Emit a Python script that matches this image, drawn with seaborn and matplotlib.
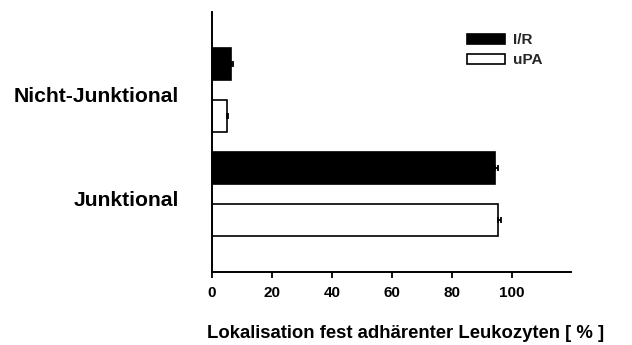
import matplotlib
matplotlib.use("Agg")
import matplotlib.pyplot as plt
import seaborn as sns
import pandas as pd
import numpy as np

categories = ["Nicht-Junktional", "Junktional"]
groups = ["I/R", "uPA"]
ir_values = [6.3, 94.3]
upa_values = [4.9, 95.2]
ir_err = [0.8, 0.9]
upa_err = [0.6, 1.3]
x_ticks = [0, 20, 40, 60, 80, 100]
x_label = "Lokalisation fest adhärenter Leukozyten [ % ]"

sns.set_theme(style="white")
plt.rcParams['font.family'] = ['Liberation Sans', 'DejaVu Sans']
plt.rcParams['font.weight'] = 'bold'

rows = []
for i, c in enumerate(categories):
    rows.append({"cat": c, "group": groups[0], "val": ir_values[i], "err": ir_err[i]})
    rows.append({"cat": c, "group": groups[1], "val": upa_values[i], "err": upa_err[i]})
df = pd.DataFrame(rows)

fig = plt.figure(figsize=(6.32, 3.45), dpi=100)
ax = fig.add_axes([212/632, 1 - 272/345, (571-212)/632, (272-12)/345])

sns.barplot(data=df, y="cat", x="val", hue="group", orient="h", order=categories,
            hue_order=groups, palette={"I/R": "black", "uPA": "white"},
            edgecolor="black", linewidth=1.2, width=1.0, gap=0.38,
            errorbar=None, ax=ax)

# error bars (one-sided, to the right), only on real bars
for p in list(ax.patches):
    w = p.get_width()
    if not np.isfinite(w) or w <= 0:
        continue
    diffs = (df["val"] - w).abs()
    if diffs.min() > 1e-6:
        continue
    match = df.loc[diffs.idxmin()]
    yc = p.get_y() + p.get_height() / 2
    ax.errorbar(w, yc, xerr=[[0], [match["err"]]], fmt="none", ecolor="black",
                elinewidth=1.3, capsize=2.5, capthick=1.3, zorder=5)

ax.set_xlim(0, 119.7)
ax.set_ylim(1.75, -0.75)
ax.set_xticks(x_ticks)
ax.set_xticklabels([str(t) for t in x_ticks], fontsize=11, fontweight="bold")
ax.set_yticks([0.04, 1.04])
ax.set_yticklabels(categories, fontsize=15.2, fontweight="bold")
ax.tick_params(axis="y", length=0, pad=24, colors="black")
ax.tick_params(axis="x", length=4, width=1.3, direction="out", pad=6, colors="black", bottom=True)

for s in ["top", "right"]:
    ax.spines[s].set_visible(False)
for s in ["left", "bottom"]:
    ax.spines[s].set_color("black")
    ax.spines[s].set_linewidth(1.4)

ax.set_ylabel("")
ax.set_xlabel(x_label, fontsize=13.3, fontweight="bold", color="black")
ax.xaxis.set_label_coords(0.54, -0.205)

handles, labels = ax.get_legend_handles_labels()
leg = ax.legend(handles, labels, loc="upper left", bbox_to_anchor=(0.71, 0.918),
                frameon=False, fontsize=11, handlelength=2.5, handleheight=0.65,
                borderpad=0, borderaxespad=0, labelspacing=0.37, handletextpad=0.5)
for t in leg.get_texts():
    t.set_fontweight("bold")
for h in leg.legend_handles:
    h.set_edgecolor("black")
    h.set_linewidth(1.2)

fig.savefig("out.png", dpi=100, facecolor="white")
